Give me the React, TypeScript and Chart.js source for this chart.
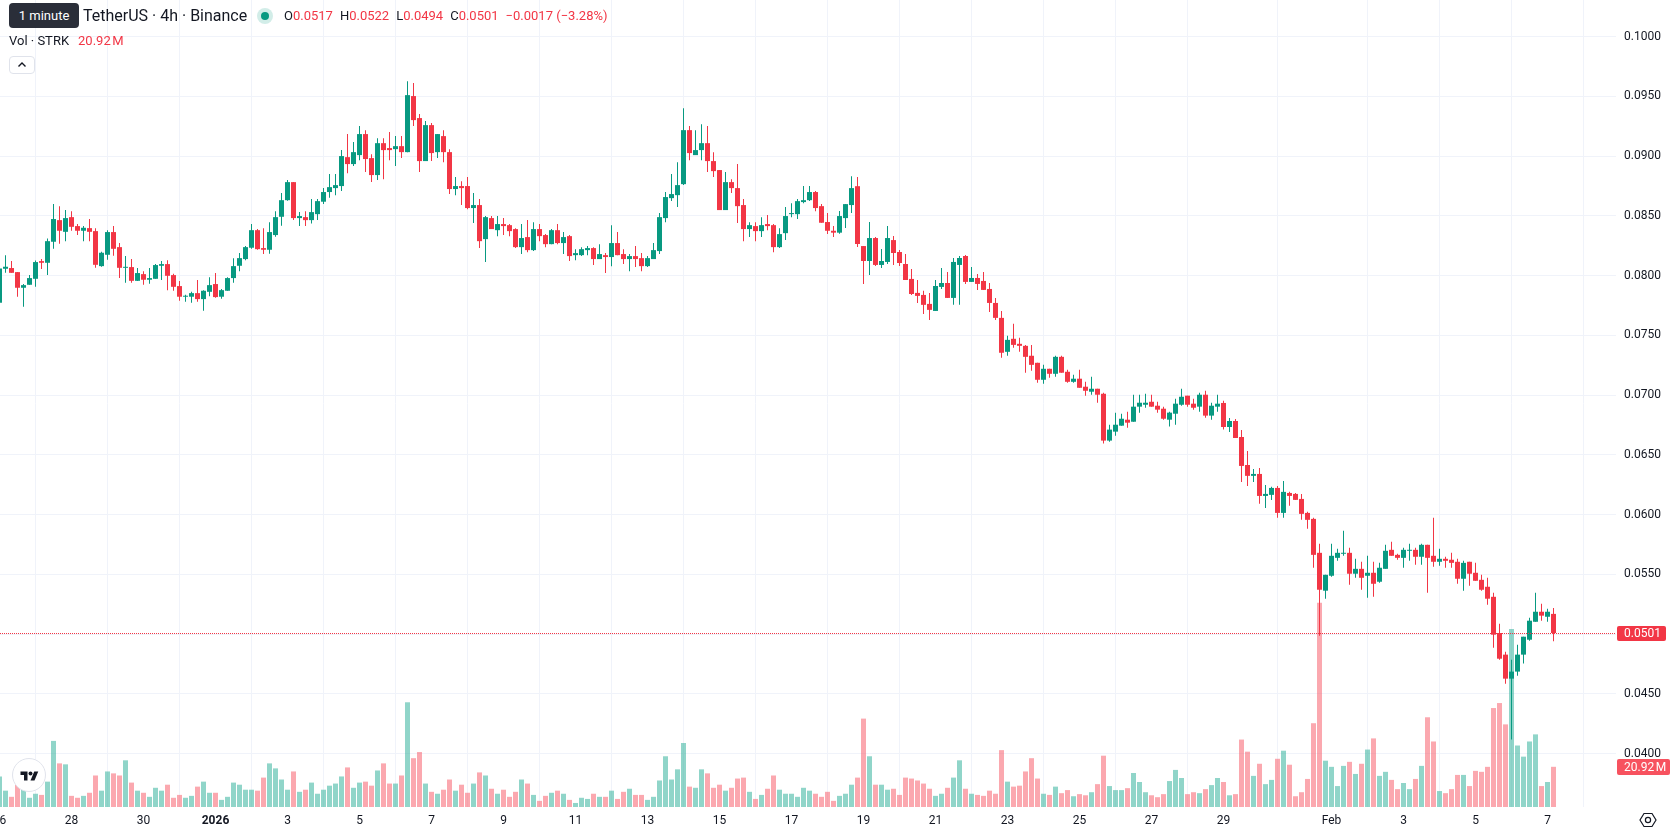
import React, { useEffect, useRef } from 'react';
import { Chart, registerables } from 'chart.js';

Chart.register(...registerables);

// ---- Data (4h candles, first candle = Dec 26 00:00, last = Feb 7 04:00) ----
const OPEN = [
  0.07773,0.08058,0.08064,0.08030,0.07899,0.07924,0.07974,0.08122,0.08108,0.08284,
  0.08465,0.08367,0.08490,0.08415,0.08376,0.08398,0.08373,0.08080,0.08175,0.08365,
  0.08239,0.08066,0.08072,0.07957,0.08013,0.07966,0.07974,0.08083,0.08097,0.08005,
  0.07913,0.07824,0.07824,0.07854,0.07804,0.07865,0.07930,0.07824,0.07874,0.07980,
  0.08083,0.08139,0.08234,0.08381,0.08231,0.08217,0.08340,0.08493,0.08632,0.08783,
  0.08482,0.08490,0.08465,0.08515,0.08619,0.08700,0.08733,0.08750,0.08992,0.08934,
  0.09009,0.09185,0.08984,0.08842,0.09109,0.09068,0.09059,0.09084,0.09034,0.09503,
  0.09319,0.08959,0.09260,0.09034,0.09168,0.09034,0.08725,0.08750,0.08750,0.08566,
  0.08591,0.08306,0.08482,0.08381,0.08432,0.08423,0.08390,0.08239,0.08323,0.08214,
  0.08390,0.08340,0.08264,0.08381,0.08273,0.08331,0.08172,0.08172,0.08214,0.08231,
  0.08139,0.08172,0.08156,0.08273,0.08181,0.08139,0.08164,0.08147,0.08080,0.08139,
  0.08206,0.08482,0.08649,0.08674,0.08766,0.09218,0.09009,0.09051,0.09109,0.08959,
  0.08884,0.08549,0.08783,0.08733,0.08591,0.08390,0.08415,0.08373,0.08432,0.08423,
  0.08239,0.08356,0.08515,0.08515,0.08616,0.08632,0.08700,0.08582,0.08449,0.08376,
  0.08360,0.08482,0.08591,0.08749,0.08248,0.08123,0.08315,0.08090,0.08115,0.08298,
  0.08198,0.08098,0.07973,0.07856,0.07839,0.07764,0.07705,0.07906,0.07939,0.07814,
  0.08090,0.08165,0.07948,0.07981,0.07956,0.07889,0.07772,0.07647,0.07363,0.07472,
  0.07430,0.07413,0.07330,0.07271,0.07129,0.07221,0.07179,0.07321,0.07196,0.07112,
  0.07138,0.07071,0.07029,0.07054,0.07012,0.06620,0.06695,0.06745,0.06795,0.06778,
  0.06904,0.06920,0.06945,0.06912,0.06887,0.06795,0.06845,0.06920,0.06996,0.06929,
  0.06904,0.07004,0.06829,0.06904,0.06935,0.06734,0.06784,0.06650,0.06416,0.06325,
  0.06341,0.06157,0.06166,0.06224,0.06015,0.06182,0.06174,0.06132,0.06015,0.05965,
  0.05681,0.05364,0.05489,0.05639,0.05673,0.05681,0.05506,0.05547,0.05489,0.05514,
  0.05439,0.05547,0.05706,0.05664,0.05639,0.05698,0.05706,0.05648,0.05748,0.05656,
  0.05606,0.05631,0.05623,0.05606,0.05464,0.05606,0.05514,0.05455,0.05397,0.05313,
  0.05010,0.04829,0.04628,0.04687,0.04829,0.04954,0.05104,0.05188,0.05146,0.0517,
];
const CLOSE = [
  0.08061,0.08075,0.08024,0.07899,0.07921,0.07980,0.08114,0.08108,0.08289,0.08474,
  0.08376,0.08482,0.08409,0.08376,0.08401,0.08367,0.08091,0.08192,0.08365,0.08225,
  0.08066,0.08072,0.07957,0.08022,0.07966,0.07980,0.08089,0.08097,0.07999,0.07907,
  0.07824,0.07832,0.07854,0.07804,0.07874,0.07921,0.07821,0.07879,0.07980,0.08080,
  0.08147,0.08239,0.08381,0.08222,0.08217,0.08365,0.08490,0.08632,0.08783,0.08482,
  0.08499,0.08465,0.08532,0.08624,0.08700,0.08741,0.08758,0.09001,0.08934,0.09034,
  0.09185,0.08976,0.08842,0.09109,0.09051,0.09051,0.09084,0.09034,0.09511,0.09302,
  0.08959,0.09260,0.09026,0.09185,0.09034,0.08725,0.08750,0.08733,0.08566,0.08591,
  0.08289,0.08490,0.08390,0.08432,0.08415,0.08373,0.08239,0.08315,0.08214,0.08390,
  0.08331,0.08264,0.08381,0.08273,0.08323,0.08164,0.08189,0.08222,0.08231,0.08139,
  0.08181,0.08156,0.08273,0.08172,0.08139,0.08164,0.08139,0.08080,0.08147,0.08214,
  0.08490,0.08658,0.08683,0.08758,0.09218,0.09026,0.09051,0.09109,0.08959,0.08875,
  0.08549,0.08783,0.08733,0.08582,0.08390,0.08423,0.08373,0.08423,0.08415,0.08239,
  0.08348,0.08499,0.08524,0.08624,0.08632,0.08700,0.08566,0.08443,0.08376,0.08360,
  0.08499,0.08599,0.08733,0.08265,0.08123,0.08315,0.08090,0.08123,0.08315,0.08190,
  0.08106,0.07964,0.07847,0.07831,0.07756,0.07714,0.07914,0.07939,0.07814,0.08115,
  0.08148,0.07948,0.07981,0.07931,0.07881,0.07772,0.07647,0.07355,0.07463,0.07421,
  0.07413,0.07321,0.07254,0.07129,0.07221,0.07179,0.07321,0.07188,0.07112,0.07138,
  0.07062,0.07037,0.07054,0.07004,0.06620,0.06712,0.06753,0.06803,0.06770,0.06904,
  0.06937,0.06937,0.06904,0.06879,0.06803,0.06854,0.06929,0.06987,0.06920,0.06895,
  0.07004,0.06829,0.06912,0.06929,0.06734,0.06784,0.06642,0.06408,0.06325,0.06341,
  0.06157,0.06174,0.06224,0.06015,0.06191,0.06157,0.06124,0.06007,0.05957,0.05664,
  0.05372,0.05497,0.05656,0.05681,0.05681,0.05506,0.05547,0.05472,0.05514,0.05422,
  0.05556,0.05698,0.05656,0.05639,0.05706,0.05706,0.05648,0.05748,0.05639,0.05606,
  0.05631,0.05614,0.05597,0.05464,0.05597,0.05506,0.05447,0.05372,0.05297,0.04996,
  0.04795,0.04628,0.04687,0.04829,0.04979,0.05113,0.05188,0.05155,0.05188,0.0501,
];
const HIGH = [
  0.08065,0.08172,0.08122,0.08030,0.07930,0.08005,0.08128,0.08139,0.08312,0.08599,
  0.08582,0.08549,0.08540,0.08432,0.08415,0.08474,0.08398,0.08200,0.08381,0.08415,
  0.08273,0.08164,0.08139,0.08064,0.08038,0.08064,0.08097,0.08122,0.08130,0.08016,
  0.07955,0.07840,0.07865,0.07963,0.07879,0.07988,0.08022,0.07888,0.07988,0.08147,
  0.08189,0.08248,0.08432,0.08390,0.08398,0.08448,0.08540,0.08691,0.08800,0.08783,
  0.08532,0.08540,0.08641,0.08641,0.08733,0.08850,0.08850,0.09051,0.09185,0.09118,
  0.09252,0.09218,0.09017,0.09151,0.09151,0.09202,0.09168,0.09168,0.09628,0.09612,
  0.09352,0.09294,0.09277,0.09185,0.09218,0.09059,0.08825,0.08791,0.08825,0.08691,
  0.08641,0.08499,0.08499,0.08499,0.08482,0.08432,0.08398,0.08432,0.08465,0.08448,
  0.08432,0.08348,0.08390,0.08432,0.08365,0.08340,0.08222,0.08239,0.08248,0.08239,
  0.08264,0.08189,0.08423,0.08365,0.08222,0.08181,0.08248,0.08189,0.08164,0.08273,
  0.08524,0.08700,0.08850,0.08950,0.09402,0.09252,0.09218,0.09268,0.09252,0.09034,
  0.08884,0.08867,0.08808,0.08934,0.08641,0.08448,0.08448,0.08490,0.08507,0.08432,
  0.08398,0.08574,0.08607,0.08641,0.08750,0.08750,0.08708,0.08599,0.08524,0.08415,
  0.08541,0.08599,0.08833,0.08825,0.08248,0.08449,0.08323,0.08223,0.08415,0.08332,
  0.08215,0.08182,0.08056,0.07964,0.07873,0.07856,0.07964,0.08065,0.08031,0.08148,
  0.08165,0.08173,0.08073,0.08014,0.08031,0.07939,0.07814,0.07705,0.07497,0.07597,
  0.07480,0.07421,0.07421,0.07271,0.07254,0.07221,0.07330,0.07330,0.07213,0.07171,
  0.07213,0.07112,0.07154,0.07054,0.07021,0.06753,0.06854,0.06845,0.06862,0.07004,
  0.07004,0.07012,0.07004,0.06945,0.06904,0.06862,0.06970,0.07054,0.06996,0.06970,
  0.07021,0.07037,0.06937,0.07004,0.06954,0.06809,0.06801,0.06709,0.06533,0.06383,
  0.06391,0.06249,0.06233,0.06241,0.06283,0.06191,0.06182,0.06174,0.06024,0.05974,
  0.05756,0.05497,0.05756,0.05714,0.05865,0.05723,0.05631,0.05606,0.05656,0.05606,
  0.05597,0.05748,0.05773,0.05673,0.05723,0.05756,0.05723,0.05756,0.05748,0.05974,
  0.05714,0.05648,0.05681,0.05631,0.05614,0.05606,0.05597,0.05497,0.05472,0.05347,
  0.05088,0.04854,0.04787,0.04912,0.04979,0.05138,0.05347,0.05255,0.05213,0.0522,
];
const LOW = [
  0.07760,0.08024,0.08024,0.07824,0.07740,0.07924,0.07907,0.08055,0.08005,0.08225,
  0.08267,0.08289,0.08376,0.08340,0.08289,0.08289,0.08066,0.08075,0.08133,0.08167,
  0.07980,0.07941,0.07941,0.07955,0.07924,0.07932,0.07974,0.07963,0.07879,0.07874,
  0.07790,0.07782,0.07773,0.07782,0.07706,0.07829,0.07815,0.07807,0.07874,0.07941,
  0.08038,0.08130,0.08225,0.08217,0.08181,0.08183,0.08326,0.08418,0.08627,0.08465,
  0.08415,0.08415,0.08437,0.08465,0.08599,0.08652,0.08674,0.08708,0.08858,0.08917,
  0.08967,0.08867,0.08783,0.08800,0.08808,0.08967,0.08917,0.08984,0.09034,0.09252,
  0.08867,0.08959,0.08959,0.08984,0.08950,0.08683,0.08674,0.08591,0.08557,0.08440,
  0.08231,0.08114,0.08390,0.08331,0.08340,0.08331,0.08231,0.08181,0.08197,0.08206,
  0.08289,0.08239,0.08264,0.08264,0.08181,0.08122,0.08130,0.08164,0.08172,0.08089,
  0.08139,0.08022,0.08080,0.08172,0.08097,0.08038,0.08072,0.08038,0.08072,0.08139,
  0.08181,0.08448,0.08624,0.08574,0.08758,0.08967,0.09009,0.08967,0.08867,0.08825,
  0.08549,0.08549,0.08691,0.08440,0.08289,0.08323,0.08289,0.08323,0.08381,0.08197,
  0.08231,0.08298,0.08490,0.08474,0.08607,0.08624,0.08540,0.08443,0.08349,0.08323,
  0.08351,0.08399,0.08524,0.08240,0.07931,0.08006,0.08081,0.08065,0.08098,0.08090,
  0.08081,0.07964,0.07839,0.07772,0.07680,0.07630,0.07705,0.07889,0.07814,0.07756,
  0.07756,0.07931,0.07948,0.07881,0.07881,0.07697,0.07630,0.07313,0.07330,0.07396,
  0.07363,0.07188,0.07204,0.07104,0.07096,0.07146,0.07154,0.07188,0.07104,0.07104,
  0.07062,0.06996,0.07004,0.06937,0.06595,0.06611,0.06661,0.06745,0.06728,0.06778,
  0.06854,0.06895,0.06904,0.06854,0.06795,0.06737,0.06753,0.06912,0.06904,0.06879,
  0.06862,0.06812,0.06795,0.06862,0.06712,0.06692,0.06642,0.06274,0.06241,0.06274,
  0.06091,0.06057,0.06124,0.05974,0.05974,0.06074,0.06124,0.05957,0.05882,0.05556,
  0.04987,0.05297,0.05480,0.05614,0.05656,0.05414,0.05472,0.05372,0.05305,0.05313,
  0.05430,0.05547,0.05656,0.05623,0.05556,0.05614,0.05581,0.05581,0.05347,0.05564,
  0.05572,0.05556,0.05556,0.05422,0.05364,0.05405,0.05447,0.05364,0.05247,0.04887,
  0.04787,0.04586,0.04118,0.04653,0.04754,0.04946,0.05104,0.05113,0.05104,0.0494,
];
// Volume in millions of STRK
const VOLUME = [
  15.9,8.5,5.3,11.6,9.0,4.8,6.9,6.3,13.2,34.4,
  22.7,22.2,5.8,4.8,5.8,7.4,16.4,8.5,18.5,17.5,
  16.4,24.3,12.7,8.5,7.4,5.3,10.0,8.5,11.6,4.8,
  6.3,4.8,5.8,10.6,13.2,7.4,7.4,3.7,5.3,12.7,
  11.6,9.0,9.0,8.5,15.3,22.7,20.1,14.3,9.0,18.5,
  7.9,9.0,12.7,6.9,9.0,11.1,12.2,15.9,20.6,10.0,
  12.7,13.2,11.1,19.0,22.7,12.2,12.2,16.4,54.5,25.4,
  28.6,12.2,7.9,6.9,9.0,14.3,8.5,11.6,7.4,12.2,
  18.0,16.4,9.5,6.9,9.0,5.3,7.9,14.3,12.2,6.3,
  3.2,5.8,7.4,8.5,6.9,3.7,2.1,4.8,4.2,6.9,
  5.3,5.3,8.5,4.2,7.9,9.5,6.3,6.3,3.7,5.3,
  13.8,26.4,14.3,19.6,33.3,10.6,10.0,19.6,17.5,10.0,
  11.6,8.5,10.0,14.8,15.3,7.9,4.2,6.3,9.5,16.4,
  9.0,6.9,6.9,5.3,10.0,8.5,6.9,5.3,7.9,3.2,
  5.8,6.9,11.6,15.3,46.0,26.4,11.6,11.6,9.0,9.5,
  6.3,15.3,14.8,13.8,12.2,9.5,5.8,6.9,10.0,15.3,
  24.3,9.5,6.9,6.3,5.8,8.5,6.9,29.6,13.2,10.6,
  11.1,18.5,25.4,14.8,6.9,6.3,10.6,7.2,8.8,5.6,
  6.7,6.1,7.7,11.9,26.7,10.9,8.8,8.8,9.8,17.7,
  13.0,7.7,6.1,5.1,6.7,13.5,19.3,15.1,6.7,7.7,
  7.2,9.3,11.4,15.1,13.0,6.1,6.7,35.1,28.8,16.2,
  22.5,11.9,14.1,25.1,29.3,22.0,5.6,7.7,14.6,43.6,
  106.3,24.1,20.9,10.9,21.4,23.5,17.2,22.5,29.9,35.7,
  16.2,18.3,14.1,9.3,12.5,9.3,14.6,21.4,46.7,34.1,
  8.3,7.2,9.3,16.7,16.7,10.9,18.8,18.3,20.9,51.5,
  54.1,43.0,92.6,32.0,26.2,34.1,37.8,10.9,13.0,20.92,
];

const PRICE_TICKS = [0.04, 0.045, 0.05, 0.055, 0.06, 0.065, 0.07, 0.075, 0.08, 0.085, 0.09, 0.095, 0.1];
const TIME_TICK_INDEX = [0, 12, 24, 36, 48, 60, 72, 84, 96, 108, 120, 132, 144, 156, 168, 180, 192, 204, 222, 234, 246, 258];
const TIME_TICK_LABELS = ['26', '28', '30', '2026', '3', '5', '7', '9', '11', '13', '15', '17', '19', '21', '23', '25', '27', '29', 'Feb', '3', '5', '7'];

const LEGEND_TITLE = 'TetherUS · 4h · Binance';
const LEGEND_OHLC = [['O', '0.0517'], ['H', '0.0522'], ['L', '0.0494'], ['C', '0.0501']];
const LEGEND_CHANGE = '−0.0017 (−3.28%)';
const LAST_PRICE = 0.0501;
const LAST_VOLUME = 20.92;

// ---- Styles ----
const UP = '#089981';
const DOWN = '#f23645';
const VOL_UP = 'rgba(34,171,148,0.5)';
const VOL_DOWN = 'rgba(247,82,95,0.5)';
const GRID = '#f0f3fa';
const TEXT = '#131722';
const FONT = 'Roboto, "Noto Sans", "DejaVu Sans", sans-serif';

const W = 1678;
const H = 835;
const PLOT_RIGHT = 1616;
const PLOT_BOTTOM = 807;
const BAR_SPACING = 6;
const X_MIN = 0.5 / BAR_SPACING;
const X_MAX = X_MIN + PLOT_RIGHT / BAR_SPACING;

function drawTag(ctx: CanvasRenderingContext2D, x: number, cy: number, w: number, h: number, color: string, text: string) {
  const y = Math.round(cy - h / 2);
  const r = 2;
  ctx.save();
  ctx.fillStyle = color;
  ctx.beginPath();
  ctx.moveTo(x + r, y);
  ctx.lineTo(x + w - r, y);
  ctx.quadraticCurveTo(x + w, y, x + w, y + r);
  ctx.lineTo(x + w, y + h - r);
  ctx.quadraticCurveTo(x + w, y + h, x + w - r, y + h);
  ctx.lineTo(x + r, y + h);
  ctx.quadraticCurveTo(x, y + h, x, y + h - r);
  ctx.lineTo(x, y + r);
  ctx.quadraticCurveTo(x, y, x + r, y);
  ctx.closePath();
  ctx.fill();
  ctx.fillStyle = '#ffffff';
  ctx.font = `12px ${FONT}`;
  ctx.textBaseline = 'middle';
  ctx.textAlign = 'left';
  ctx.fillText(text, x + 7, y + h / 2 + 0.5);
  ctx.restore();
}

const overlayPlugin = {
  id: 'tvOverlay',
  afterDatasetsDraw(chart: any) {
    const { ctx, chartArea } = chart;
    const y = Math.round(chart.scales.y.getPixelForValue(LAST_PRICE)) + 0.5;
    ctx.save();
    ctx.strokeStyle = DOWN;
    ctx.lineWidth = 1;
    ctx.setLineDash([1, 1]);
    ctx.beginPath();
    ctx.moveTo(chartArea.left, y);
    ctx.lineTo(chartArea.right, y);
    ctx.stroke();
    ctx.restore();
  },
  afterDraw(chart: any) {
    const { ctx } = chart;
    const py = chart.scales.y.getPixelForValue(LAST_PRICE);
    drawTag(ctx, PLOT_RIGHT + 1, py, 49, 15, DOWN, LAST_PRICE.toFixed(4));
    const vy = chart.scales.vol.getPixelForValue(LAST_VOLUME);
    drawTag(ctx, PLOT_RIGHT + 1, vy, 53, 16, '#f7525f', LAST_VOLUME.toFixed(2) + '\u202FM');
  },
};

export default function App() {
  const ref = useRef<HTMLCanvasElement>(null);

  useEffect(() => {
    document.body.style.margin = '0';
    const n = Math.min(OPEN.length, CLOSE.length, HIGH.length, LOW.length, VOLUME.length);
    const idx = Array.from({ length: n }, (_, i) => i);
    const up = idx.map((i) => CLOSE[i] >= OPEN[i]);
    const candleColors = up.map((u) => (u ? UP : DOWN));
    const volColors = up.map((u) => (u ? VOL_UP : VOL_DOWN));

    const chart = new Chart(ref.current as HTMLCanvasElement, {
      type: 'bar',
      data: {
        datasets: [
          {
            label: 'body',
            data: idx.map((i) => ({ x: i, y: [OPEN[i], CLOSE[i]] })) as any,
            backgroundColor: candleColors,
            barThickness: 5,
            minBarLength: 1,
            grouped: false,
            inflateAmount: 0,
            borderWidth: 0,
            order: 1,
            xAxisID: 'x',
            yAxisID: 'y',
          } as any,
          {
            label: 'wick',
            data: idx.map((i) => ({ x: i, y: [LOW[i], HIGH[i]] })) as any,
            backgroundColor: candleColors,
            barThickness: 1,
            minBarLength: 1,
            grouped: false,
            inflateAmount: 0,
            borderWidth: 0,
            order: 2,
            xAxisID: 'x',
            yAxisID: 'y',
          } as any,
          {
            label: 'volume',
            data: idx.map((i) => ({ x: i, y: VOLUME[i] })) as any,
            backgroundColor: volColors,
            barThickness: 5,
            grouped: false,
            inflateAmount: 0,
            borderWidth: 0,
            order: 3,
            xAxisID: 'x',
            yAxisID: 'vol',
          } as any,
        ],
      },
      options: {
        responsive: false,
        maintainAspectRatio: false,
        devicePixelRatio: 1,
        animation: false,
        events: [],
        layout: { padding: 0, autoPadding: false } as any,
        plugins: {
          legend: { display: false },
          tooltip: { enabled: false },
        },
        scales: {
          x: {
            type: 'linear',
            position: 'bottom',
            min: X_MIN,
            max: X_MAX,
            offset: false,
            grid: { color: GRID, drawTicks: false, lineWidth: 1 },
            border: { display: false },
            afterBuildTicks: (s: any) => {
              s.ticks = TIME_TICK_INDEX.map((v) => ({ value: v }));
            },
            afterFit: (s: any) => {
              s.height = H - PLOT_BOTTOM;
              s.paddingLeft = 0;
              s.paddingRight = 0;
            },
            ticks: {
              autoSkip: false,
              maxRotation: 0,
              minRotation: 0,
              padding: 7,
              color: TEXT,
              font: (c: any) => ({
                family: FONT,
                size: 12,
                weight: c.tick && c.tick.label === '2026' ? 'bold' : 'normal',
              }),
              callback: (v: any) => {
                const k = TIME_TICK_INDEX.indexOf(Number(v));
                return k >= 0 ? TIME_TICK_LABELS[k] : '';
              },
            },
          } as any,
          y: {
            type: 'linear',
            position: 'right',
            min: 0.03554,
            max: 0.10307,
            grid: { color: GRID, drawTicks: false, lineWidth: 1 },
            border: { display: false },
            afterBuildTicks: (s: any) => {
              s.ticks = PRICE_TICKS.map((v) => ({ value: v }));
            },
            afterFit: (s: any) => {
              s.width = W - PLOT_RIGHT;
              s.paddingTop = 0;
              s.paddingBottom = 0;
            },
            ticks: {
              padding: 8,
              color: TEXT,
              font: { family: FONT, size: 12 },
              callback: (v: any) => Number(v).toFixed(4),
            },
          } as any,
          vol: {
            type: 'linear',
            display: false,
            min: 0,
            max: 420,
          } as any,
        },
      },
      plugins: [overlayPlugin],
    });
    return () => chart.destroy();
  }, []);

  return (
    <div
      style={{
        position: 'fixed',
        left: 0,
        top: 0,
        width: W,
        height: H,
        background: '#ffffff',
        overflow: 'hidden',
        fontFamily: FONT,
        color: TEXT,
      }}
    >
      <canvas ref={ref} width={W} height={H} style={{ position: 'absolute', left: 0, top: 0, width: W, height: H }} />

      {/* Legend: title row */}
      <div style={{ position: 'absolute', left: 83, top: 6, height: 20, lineHeight: '20px', fontSize: 16, whiteSpace: 'nowrap', pointerEvents: 'none' }}>
        {LEGEND_TITLE}
      </div>
      <div style={{ position: 'absolute', left: 257, top: 8, width: 16, height: 16, borderRadius: 8, background: 'rgba(8,153,129,0.18)', pointerEvents: 'none' }}>
        <div style={{ position: 'absolute', left: 4, top: 4, width: 8, height: 8, borderRadius: 4, background: UP }} />
      </div>
      <div style={{ position: 'absolute', left: 284, top: 7, height: 18, lineHeight: '18px', fontSize: 13, whiteSpace: 'nowrap', display: 'flex', gap: 7, pointerEvents: 'none' }}>
        {LEGEND_OHLC.map(([k, v]) => (
          <span key={k}>
            <span style={{ color: TEXT }}>{k}</span>
            <span style={{ color: DOWN }}>{v}</span>
          </span>
        ))}
        <span style={{ color: DOWN }}>{LEGEND_CHANGE}</span>
      </div>

      {/* Tooltip over the title */}
      <div
        style={{
          position: 'absolute',
          left: 9,
          top: 3,
          width: 70,
          height: 25,
          lineHeight: '25px',
          borderRadius: 4,
          background: '#2a2e39',
          color: '#ffffff',
          fontSize: 13,
          textAlign: 'center',
          whiteSpace: 'nowrap',
          pointerEvents: 'none',
        }}
      >
        1 minute
      </div>

      {/* Volume legend */}
      <div style={{ position: 'absolute', left: 9, top: 32, height: 18, lineHeight: '18px', fontSize: 13, whiteSpace: 'nowrap', pointerEvents: 'none' }}>
        <span style={{ color: TEXT }}>Vol · STRK</span>
        <span style={{ color: DOWN, marginLeft: 9 }}>{LAST_VOLUME.toFixed(2)}{'\u202F'}M</span>
      </div>

      {/* Collapse button */}
      <div
        style={{
          position: 'absolute',
          left: 9,
          top: 56,
          width: 26,
          height: 18,
          border: '1px solid #e0e3eb',
          borderRadius: 4,
          background: '#ffffff',
          boxSizing: 'border-box',
          pointerEvents: 'none',
        }}
      >
        <svg width="24" height="16" style={{ position: 'absolute', left: 0, top: 0 }}>
          <polyline points="8.5,9.5 12,6 15.5,9.5" fill="none" stroke={TEXT} strokeWidth="1.4" />
        </svg>
      </div>

      {/* TradingView logo */}
      <svg width="36" height="36" style={{ position: 'absolute', left: 11, top: 757, pointerEvents: 'none' }}>
        <circle cx="18" cy="18" r="16.5" fill="#ffffff" stroke="#e0e3eb" strokeWidth="1" />
        <g transform="translate(9.5,12.5) scale(0.5)">
          <path d="M14 22H7V11H0V4h14v18z" fill="#131722" />
          <path d="M28 22h-8l7.5-18h8L28 22z" fill="#131722" />
          <circle cx="20" cy="8" r="4" fill="#131722" />
        </g>
      </svg>

      {/* Settings icon */}
      <svg width="20" height="20" style={{ position: 'absolute', left: 1638, top: 810, pointerEvents: 'none' }}>
        <polygon points="6,3.5 14,3.5 18,10 14,16.5 6,16.5 2,10" fill="none" stroke={TEXT} strokeWidth="1.2" />
        <circle cx="10" cy="10" r="2.6" fill="none" stroke={TEXT} strokeWidth="1.2" />
      </svg>
    </div>
  );
}
